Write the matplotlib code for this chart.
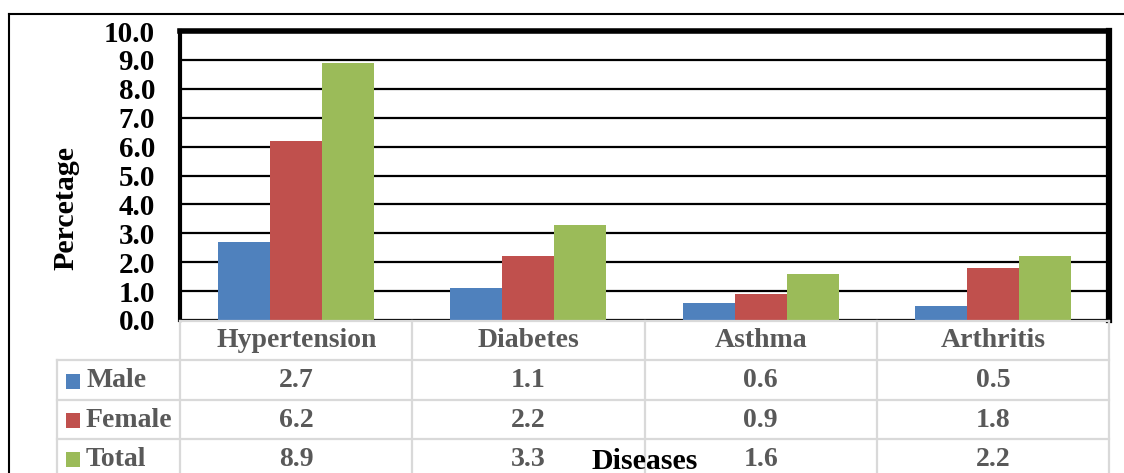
import matplotlib.pyplot as plt
from matplotlib.lines import Line2D
from matplotlib.patches import Rectangle

plt.rcParams["font.family"] = ["Liberation Serif", "DejaVu Serif"]
plt.rcParams["font.weight"] = "bold"

diseases = ["Hypertension", "Diabetes", "Asthma", "Arthritis"]
series_names = ["Male", "Female", "Total"]
male = [2.7, 1.1, 0.6, 0.5]
female = [6.2, 2.2, 0.9, 1.8]
total = [8.9, 3.3, 1.6, 2.2]
y_ticks = [0.0, 1.0, 2.0, 3.0, 4.0, 5.0, 6.0, 7.0, 8.0, 9.0, 10.0]

colors = ["#4F81BD", "#C0504D", "#9BBB59"]
grey_text = "#595959"
grid_grey = "#D9D9D9"

W, H = 1124, 473
fig = plt.figure(figsize=(W / 100, H / 100), dpi=100)
fig.patch.set_facecolor("white")


def px_rect(x0, y0, x1, y1):
    # pixel box (top-left origin) -> figure fraction rect
    return [x0 / W, 1 - y1 / H, (x1 - x0) / W, (y1 - y0) / H]


ax = fig.add_axes(px_rect(180, 31, 1109, 320))
bar_w = 0.224
values = [male, female, total]
for i, (vals, c) in enumerate(zip(values, colors)):
    xs = [k + (i - 1) * bar_w for k in range(len(diseases))]
    ax.bar(xs, vals, width=bar_w, color=c, zorder=3, linewidth=0)

ax.set_xlim(-0.5, len(diseases) - 0.5)
ax.set_ylim(0, 10)
ax.set_yticks(y_ticks)
ax.set_yticklabels([f"{t:.1f}" for t in y_ticks], fontsize=21, fontweight="bold", color="black")
ax.tick_params(axis="y", length=0, pad=18)
ax.set_xticks([])
ax.grid(axis="y", color="black", linewidth=1.6, zorder=1)
for side, lw in [("left", 3), ("top", 4), ("right", 4.5), ("bottom", 2)]:
    ax.spines[side].set_linewidth(lw)
    ax.spines[side].set_color("black")

fig.text(66 / W, 1 - 208 / H, "Percetage", rotation=90, ha="center", va="center",
         fontsize=21.5, fontweight="bold", color="black")

# data table below the plot, sharing the category positions
tab = fig.add_axes(px_rect(57, 321, 1109, 473))
left_edge = -0.5 - 123 / 232
tab.set_xlim(left_edge, len(diseases) - 0.5)
row_h = 39.3
tab.set_ylim(152 / row_h, 0)
tab.axis("off")

lw_t = 1.6
# horizontal lines
tab.plot([-0.5, len(diseases) - 0.5], [0, 0], color=grid_grey, lw=lw_t, clip_on=False)
for r in range(1, 4):
    tab.plot([left_edge, len(diseases) - 0.5], [r, r], color=grid_grey, lw=lw_t, clip_on=False)
# vertical lines
for k in range(len(diseases) + 1):
    tab.plot([k - 0.5, k - 0.5], [0, 4], color=grid_grey, lw=lw_t, clip_on=False)
tab.plot([left_edge, left_edge], [1, 4], color=grid_grey, lw=lw_t, clip_on=False)

fs = 20
for k, name in enumerate(diseases):
    tab.text(k, 0.5, name, ha="center", va="center", fontsize=fs, fontweight="bold", color=grey_text)
for r, (name, vals, c) in enumerate(zip(series_names, values, colors), start=1):
    tab.add_patch(Rectangle((left_edge + 0.04, r + 0.34), 0.06, 0.38, color=c, lw=0))
    tab.text(left_edge + 0.125, r + 0.52, name, ha="left", va="center", fontsize=fs,
             fontweight="bold", color=grey_text)
    for k, v in enumerate(vals):
        tab.text(k, r + 0.52, f"{v:.1f}", ha="center", va="center", fontsize=fs,
                 fontweight="bold", color=grey_text)

fig.text(645 / W, 1 - 461 / H, "Diseases", ha="center", va="center", fontsize=21.5,
         fontweight="bold", color="black")

# outer chart border (left and top edges)
fig.add_artist(Line2D([9 / W, 9 / W], [1 - 14 / H, 0], color="black", lw=1.5))
fig.add_artist(Line2D([9 / W, 1], [1 - 14 / H, 1 - 14 / H], color="black", lw=1.5))

fig.savefig("out.png", dpi=100, facecolor="white")
